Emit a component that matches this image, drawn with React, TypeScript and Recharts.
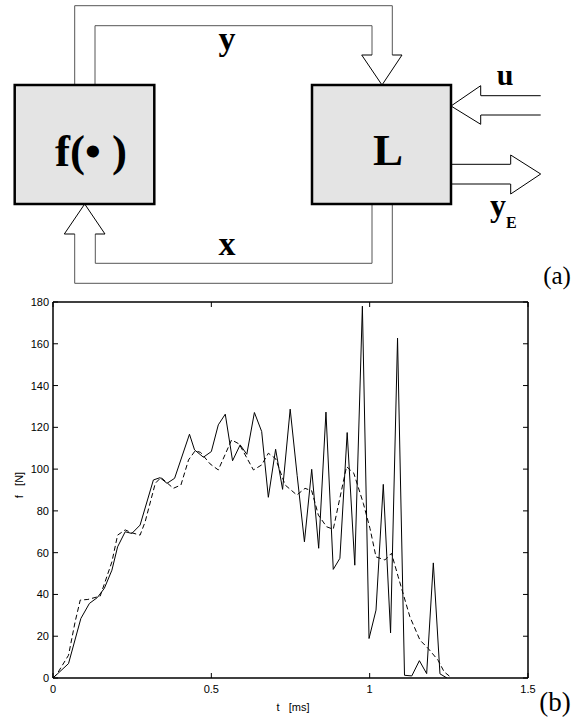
import React from 'react';
import { LineChart, Line, XAxis, YAxis } from 'recharts';

// ---- data ----
const solidT = [0, 0.049, 0.088, 0.115, 0.14, 0.162, 0.186, 0.204, 0.228, 0.249, 0.275, 0.317, 0.338, 0.36, 0.384, 0.431, 0.447, 0.475, 0.5, 0.522, 0.544, 0.567, 0.591, 0.612, 0.636, 0.659, 0.68, 0.703, 0.725, 0.749, 0.771, 0.794, 0.817, 0.839, 0.862, 0.885, 0.906, 0.929, 0.953, 0.977, 0.998, 1.02, 1.043, 1.066, 1.088, 1.11, 1.133, 1.157, 1.18, 1.201, 1.222, 1.244];
const solidF = [0, 6.9, 28.5, 35.7, 38.5, 42.9, 51.6, 62.8, 70, 69.2, 73.2, 94.8, 95.9, 93.2, 95.6, 116.7, 109.2, 105.7, 108.4, 121.2, 126.3, 104, 111.6, 107.1, 127.1, 118, 86.5, 109.5, 90.3, 128.7, 97, 65.2, 99.9, 62.1, 127.3, 52, 57.3, 117.5, 54, 178, 18.9, 32.5, 92.7, 21.6, 162.7, 1.3, 1, 8.3, 2.1, 55.1, 2, 0];

const dashedT = [0, 0.013, 0.049, 0.07, 0.086, 0.11, 0.149, 0.186, 0.204, 0.228, 0.249, 0.275, 0.291, 0.323, 0.341, 0.38, 0.404, 0.428, 0.449, 0.466, 0.496, 0.522, 0.564, 0.588, 0.633, 0.659, 0.68, 0.703, 0.733, 0.77, 0.796, 0.817, 0.838, 0.864, 0.885, 0.927, 0.95, 0.98, 1.001, 1.02, 1.048, 1.069, 1.09, 1.127, 1.159, 1.185, 1.216, 1.235, 1.259];
const dashedF = [0, 2, 10.9, 27, 37.3, 37.6, 39.2, 55.6, 68.4, 70.9, 69.5, 68.4, 74.8, 93.2, 96, 90.8, 92.4, 104.4, 108.8, 108, 102.5, 99.6, 114, 112, 99.6, 102, 107.6, 105, 92.4, 87.6, 90.8, 89.6, 78, 72.4, 71.2, 101.2, 98, 83.6, 71.6, 58, 56.5, 59.7, 48.5, 29.3, 18.1, 14.1, 8.5, 3, 0];

const xTicks = [0, 0.5, 1, 1.5];
const yTicks = [0, 20, 40, 60, 80, 100, 120, 140, 160, 180];

const solidData = solidT.map((t, i) => ({ t, f: solidF[i] }));
const dashedData = dashedT.map((t, i) => ({ t, f: dashedF[i] }));

// ---- layout ----
const W = 578;
const H = 717;
const PL = 53;
const PR = 528;
const PT = 302;
const PB = 678;
const TICK = 5;
const AX_FONT = 'Liberation Sans, Arial, Helvetica, sans-serif';
const SERIF = 'Liberation Serif, Times New Roman, serif';

const fmt = (v: number) => String(v);

const LeftTick = (p: any) => (
  <g>
    <line x1={PL} x2={PL + TICK} y1={p.y} y2={p.y} stroke="#000" strokeWidth={1} />
    <text x={PL - 4} y={p.y} dy={4} textAnchor="end" fontSize={11} fontFamily={AX_FONT} fill="#000">
      {fmt(p.payload.value)}
    </text>
  </g>
);
const RightTick = (p: any) => (
  <line x1={PR - TICK} x2={PR} y1={p.y} y2={p.y} stroke="#000" strokeWidth={1} />
);
const BottomTick = (p: any) => (
  <g>
    <line x1={p.x} x2={p.x} y1={PB} y2={PB - TICK} stroke="#000" strokeWidth={1} />
    <text x={p.x} y={PB + 15} textAnchor="middle" fontSize={11} fontFamily={AX_FONT} fill="#000">
      {fmt(p.payload.value)}
    </text>
  </g>
);
const TopTick = (p: any) => (
  <line x1={p.x} x2={p.x} y1={PT} y2={PT + TICK} stroke="#000" strokeWidth={1} />
);

const XLabel = () => (
  <g>
    <text x={293} y={711} textAnchor="middle" fontSize={11} fontFamily={AX_FONT} fill="#000" style={{ whiteSpace: 'pre' }}>
      {'t   [ms]'}
    </text>
    <text x={555} y={711} textAnchor="middle" fontSize={27} fontFamily={SERIF} fill="#000">
      (b)
    </text>
  </g>
);
const YLabel = () => (
  <text x={23} y={485} transform="rotate(-90 23 485)" textAnchor="middle" fontSize={11} fontFamily={AX_FONT} fill="#000" style={{ whiteSpace: 'pre' }}>
    {'f   [N]'}
  </text>
);

const CH = '#555';

const Diagram = () => (
  <svg width={W} height={300} style={{ position: 'absolute', left: 0, top: 0, pointerEvents: 'none' }}>
    {/* y channel */}
    <polyline points="74.7,85 74.7,5.7 392.3,5.7 392.3,55" fill="none" stroke={CH} strokeWidth={1} />
    <polyline points="95,85 95,25.7 372,25.7 372,55" fill="none" stroke={CH} strokeWidth={1} />
    <polyline points="372,55 361.7,55 382,85 402,55 392.3,55" fill="#fff" stroke="#000" strokeWidth={1} />
    {/* x channel */}
    <polyline points="392.3,204 392.3,283.3 74.7,283.3 74.7,234" fill="none" stroke={CH} strokeWidth={1} />
    <polyline points="372,204 372,263.3 95.3,263.3 95.3,234" fill="none" stroke={CH} strokeWidth={1} />
    <polyline points="74.7,234 64.3,234 84.7,204 105,234 95.3,234" fill="#fff" stroke="#000" strokeWidth={1} />
    {/* u input */}
    <line x1={480.7} x2={540.7} y1={95.7} y2={95.7} stroke="#000" strokeWidth={1} />
    <line x1={480.7} x2={540.7} y1={115} y2={115} stroke="#000" strokeWidth={1} />
    <polyline points="480.7,95.7 480.7,85.7 451,106 480.7,124.3 480.7,115" fill="#fff" stroke="#000" strokeWidth={1} />
    {/* yE output */}
    <line x1={451} x2={510.7} y1={164.3} y2={164.3} stroke="#000" strokeWidth={1} />
    <line x1={451} x2={510.7} y1={184} y2={184} stroke="#000" strokeWidth={1} />
    <polyline points="510.7,164.3 510.7,155 540.7,174 510.7,194 510.7,184" fill="#fff" stroke="#000" strokeWidth={1} />
    {/* boxes */}
    <rect x={14.7} y={85} width={139.6} height={119} fill="#e4e4e4" stroke="#000" strokeWidth={2.5} />
    <rect x={312} y={85} width={139} height={119} fill="#e4e4e4" stroke="#000" strokeWidth={2.5} />
    <text x={91} y={166} textAnchor="middle" fontSize={45} fontWeight="bold" fontFamily={SERIF} style={{ whiteSpace: 'pre' }}>
      {'f(\u2022 )'}
    </text>
    <text x={388} y={165} textAnchor="middle" fontSize={45} fontWeight="bold" fontFamily={SERIF}>
      L
    </text>
    <text x={227} y={50} textAnchor="middle" fontSize={34} fontWeight="bold" fontFamily={SERIF}>
      y
    </text>
    <text x={227} y={255} textAnchor="middle" fontSize={34} fontWeight="bold" fontFamily={SERIF}>
      x
    </text>
    <text x={505} y={85} textAnchor="middle" fontSize={30} fontWeight="bold" fontFamily={SERIF}>
      u
    </text>
    <text x={498} y={216} textAnchor="middle" fontSize={32} fontWeight="bold" fontFamily={SERIF}>
      y
    </text>
    <text x={506} y={228} fontSize={16} fontWeight="bold" fontFamily={SERIF}>
      E
    </text>
    <text x={557} y={284} textAnchor="middle" fontSize={25} fontFamily={SERIF}>
      (a)
    </text>
  </svg>
);

export default function App() {
  return (
    <div style={{ position: 'absolute', left: 0, top: 0, width: W, height: H, background: '#fff' }}>
      <LineChart
        width={W}
        height={H}
        margin={{ top: PT - 1, left: PL - 1, right: W - PR - 1, bottom: H - PB - 1 }}
      >
        <XAxis
          xAxisId="b"
          dataKey="t"
          type="number"
          domain={[0, 1.5]}
          ticks={xTicks}
          interval={0}
          allowDataOverflow
          height={1}
          tickLine={false}
          axisLine={{ stroke: '#000', strokeWidth: 1.5 }}
          tick={<BottomTick />}
          label={<XLabel />}
        />
        <XAxis
          xAxisId="top"
          orientation="top"
          dataKey="t"
          type="number"
          domain={[0, 1.5]}
          ticks={xTicks}
          interval={0}
          allowDataOverflow
          height={1}
          tickLine={false}
          axisLine={{ stroke: '#000', strokeWidth: 1.5 }}
          tick={<TopTick />}
        />
        <YAxis
          yAxisId="l"
          type="number"
          domain={[0, 180]}
          ticks={yTicks}
          interval={0}
          allowDataOverflow
          width={1}
          tickLine={false}
          axisLine={{ stroke: '#000', strokeWidth: 1.5 }}
          tick={<LeftTick />}
          label={<YLabel />}
        />
        <YAxis
          yAxisId="r"
          orientation="right"
          type="number"
          domain={[0, 180]}
          ticks={yTicks}
          interval={0}
          allowDataOverflow
          width={1}
          tickLine={false}
          axisLine={{ stroke: '#000', strokeWidth: 1.5 }}
          tick={<RightTick />}
        />
        <Line
          xAxisId="b"
          yAxisId="l"
          data={dashedData}
          dataKey="f"
          type="linear"
          stroke="#000"
          strokeWidth={1}
          strokeDasharray="5 3"
          dot={false}
          isAnimationActive={false}
        />
        <Line
          xAxisId="b"
          yAxisId="l"
          data={solidData}
          dataKey="f"
          type="linear"
          stroke="#000"
          strokeWidth={1}
          dot={false}
          isAnimationActive={false}
        />
      </LineChart>
      <Diagram />
    </div>
  );
}
